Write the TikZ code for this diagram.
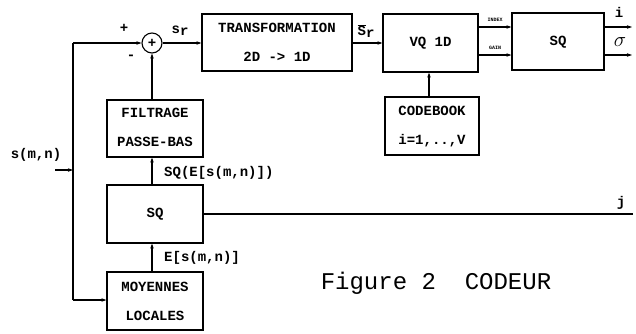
\documentclass[tikz,border=0pt]{standalone}
\usepackage{fontspec}
\setmonofont{Liberation Mono}
\usetikzlibrary{arrows.meta}
\begin{document}
\begin{tikzpicture}[x=1pt,y=-1pt,
  lab/.style={font=\ttfamily\bfseries\fontsize{14}{14}\selectfont, inner sep=0pt},
  small/.style={font=\ttfamily\bfseries\fontsize{5}{5}\selectfont, inner sep=0pt},
  blk/.style={draw, line width=1.2pt, rectangle, inner sep=0pt},
  conn/.style={line width=1.1pt},
  arr/.style={line width=1.1pt, -{Stealth[length=5pt,width=3.5pt]}}]
\useasboundingbox (0,0) rectangle (636,333);
% blocks
\node[blk, minimum width=150pt, minimum height=57pt] (tr) at (277,42.5) {};
\node[lab] at (277,28) {TRANSFORMATION};
\node[lab] at (277,57) {2D -> 1D};
\node[blk, minimum width=95pt, minimum height=58pt] (vq) at (430.5,43) {};
\node[lab] at (430.5,43) {VQ 1D};
\node[blk, minimum width=92pt, minimum height=57pt] (sq1) at (558,41.5) {};
\node[lab] at (558,42) {SQ};
\node[blk, minimum width=94pt, minimum height=58pt] (cb) at (432,126) {};
\node[lab] at (432,111) {CODEBOOK};
\node[lab] at (432,141) {i=1,..,V};
\node[blk, minimum width=96pt, minimum height=57pt] (fi) at (155,128.5) {};
\node[lab] at (155,113) {FILTRAGE};
\node[lab] at (155,142) {PASSE-BAS};
\node[blk, minimum width=96pt, minimum height=58pt] (sq2) at (155,214) {};
\node[lab] at (155,214) {SQ};
\node[blk, minimum width=96pt, minimum height=58pt] (mo) at (155,301) {};
\node[lab] at (155,287) {MOYENNES};
\node[lab] at (155,316) {LOCALES};
% summing node
\node[draw, circle, line width=1.1pt, minimum size=20pt, inner sep=0pt] (sum) at (152,43) {};
\node[lab] at (sum.center) {+};
% coordinates
\coordinate (tl) at (73,43);
\coordinate (bl) at (73,300);
\coordinate (in) at (55,170);
\coordinate (inj) at (73,170);
\coordinate (iout) at (632,27);
\coordinate (sout) at (632,55);
\coordinate (jout) at (633,214);
% connectors
\draw[conn] (bl) -- (tl);
\draw[arr] (tl) -- (sum.west);
\draw[arr] (bl) -- (mo.west |- bl);
\draw[arr] (in) -- (inj);
\draw[arr] (sum.east) -- (tr.west |- sum.east);
\draw[arr] (tr.east |- 0,43) -- (vq.west |- 0,43);
\draw[arr] (vq.east |- 0,27) -- (sq1.west |- 0,27);
\draw[arr] (vq.east |- 0,55) -- (sq1.west |- 0,55);
\draw[arr] (sq1.east |- iout) -- (iout);
\draw[arr] (sq1.east |- sout) -- (sout);
\draw[arr] (cb.north -| 429,0) -- (vq.south -| 429,0);
\draw[arr] (fi.north -| sum) -- (sum.south);
\draw[arr] (sq2.north -| 152,0) -- (fi.south -| 152,0);
\draw[arr] (mo.north -| 152,0) -- (sq2.south -| 152,0);
\draw[conn] (sq2.east |- jout) -- (jout);
% labels
\node[lab] at (124,28) {+};
\node[lab] at (131,57) {-};
\node[lab] at (180,31) {s\raisebox{-2pt}{r}};
\node[lab] at (366,31) {$\overline{\mbox{S}}$\raisebox{-2pt}{r}};
\node[small] at (495,20) {INDEX};
\node[small] at (495,48) {GAIN};
\node[lab] at (619,12) {i};
\node[font=\fontsize{22}{22}\selectfont, inner sep=0pt] at (620,42) {$\sigma$};
\node[lab] at (621,203) {j};
\node[lab] at (36,155) {s(m,n)};
\node[lab, anchor=west] at (164,173) {SQ(E[s(m,n)])};
\node[lab, anchor=west] at (164,258) {E[s(m,n)]};
\node[font=\ttfamily\fontsize{24}{24}\selectfont, inner sep=0pt] at (436,283) {Figure 2\ \ CODEUR};
\end{tikzpicture}
\end{document}
